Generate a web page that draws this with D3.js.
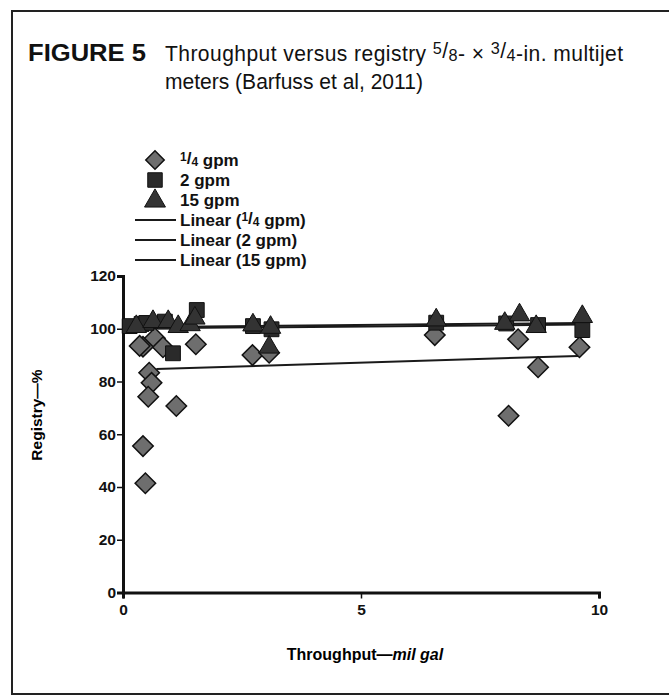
<!DOCTYPE html>
<html>
<head>
<meta charset="utf-8">
<script src="https://cdn.jsdelivr.net/npm/d3@7"></script>
<style>
  html, body { margin: 0; padding: 0; background: #fff; }
  svg { display: block; }
  .tick text { font-family: "Liberation Sans", Arial, sans-serif; font-weight: bold; font-size: 15.5px; fill: #111; }
  .legend text { font-family: "Liberation Sans", Arial, sans-serif; font-weight: bold; font-size: 17px; fill: #111; }
  .title { font-family: "Liberation Sans", Arial, sans-serif; fill: #111; }
</style>
</head>
<body>
<svg id="chart" width="669" height="696"></svg>
<script>
// 1/4 gpm (diamonds)
const quarterX = [0.42, 0.35, 0.67, 0.84, 1.12, 0.55, 0.6, 0.53, 0.42, 0.47, 1.53, 2.72, 3.07, 6.55, 8.3, 9.59, 8.72, 8.1];
const quarterY = [93.2, 93.5, 96.4, 93, 70.7, 83.3, 79.5, 74.2, 55.5, 41.4, 94.1, 90, 90.9, 97.6, 96, 93, 85.4, 67];
// 2 gpm (squares)
const twoX = [0.14, 0.39, 0.49, 0.88, 1.05, 1.55, 2.73, 3.12, 6.58, 8.05, 8.72, 9.65];
const twoY = [101, 101.8, 102.2, 102.7, 90.7, 107.1, 101, 99.8, 102.3, 102, 101.4, 99.5];
// 15 gpm (triangles)
const fifteenX = [0.28, 0.63, 0.95, 1.16, 1.41, 1.51, 2.73, 3.07, 3.1, 6.58, 8.02, 8.33, 8.68, 9.65];
const fifteenY = [100.8, 102.7, 102.7, 100.8, 101.5, 104, 101.4, 93, 100.5, 103.3, 102, 105.2, 100.8, 104.6];
// trend line end points [x, y]
const quarterTrend = [[0.7, 84.7], [9.56, 89.7]];
const twoTrend = [[0.08, 100.1], [9.65, 101.6]];
const fifteenTrend = [[0.08, 100.6], [9.65, 102.2]];

const xTicks = [0, 5, 10];
const yTicks = [0, 20, 40, 60, 80, 100, 120];
const legendLabels = ['1/4 gpm', '2 gpm', '15 gpm', 'Linear (1/4 gpm)', 'Linear (2 gpm)', 'Linear (15 gpm)'];

const svg = d3.select('#chart');

// writes text into a <text>, turning "a/b" into a small raised / lowered fraction
function fracText(sel, str, big, small, up) {
  const parts = str.split(/(\d\/\d)/);
  parts.forEach(p => {
    if (/^\d\/\d$/.test(p)) {
      sel.append('tspan').attr('font-size', small).attr('dy', -up).text(p[0]);
      sel.append('tspan').attr('font-size', big).attr('dy', up * 0.55).text('/');
      sel.append('tspan').attr('font-size', small).attr('dy', up * 0.45).text(p[2]);
    } else if (p) {
      sel.append('tspan').attr('font-size', big).text(p);
    }
  });
}

// frame
svg.append('rect')
  .attr('x', 12).attr('y', 11)
  .attr('width', 700).attr('height', 683)
  .attr('fill', 'none').attr('stroke', '#222').attr('stroke-width', 2);

// title
svg.append('text').attr('class', 'title')
  .attr('x', 28).attr('y', 61).attr('font-size', 23).attr('font-weight', 'bold')
  .attr('textLength', 118).attr('lengthAdjust', 'spacingAndGlyphs')
  .text('FIGURE 5');
const titleG = svg.append('g');
const t1 = titleG.append('text').attr('class', 'title').attr('x', 0).attr('y', 61);
fracText(t1, 'Throughput versus registry 5/8- \u00D7 3/4-in. multijet', 22, 17, 7);
const t2 = titleG.append('text').attr('class', 'title').attr('x', 0).attr('y', 89)
  .attr('font-size', 22).text('meters (Barfuss et al, 2011)');
// squeeze to the narrow face of the original
const sx = 258 / t2.node().getComputedTextLength();
titleG.attr('transform', `translate(165,0) scale(${sx},1)`);
t1.attr('textLength', 458 / sx).attr('lengthAdjust', 'spacing');

// scales
const x = d3.scaleLinear().domain([0, 10]).range([123, 599]);
const y = d3.scaleLinear().domain([0, 120]).range([592.5, 276]);

// axes
const xAxis = svg.append('g')
  .attr('transform', `translate(0,${y(0)})`)
  .call(d3.axisBottom(x).tickValues(xTicks).tickSize(6).tickPadding(3));
const yAxis = svg.append('g')
  .attr('transform', `translate(${x(0)},0)`)
  .call(d3.axisLeft(y).tickValues(yTicks).tickSize(6).tickPadding(1));
[xAxis, yAxis].forEach(g => {
  g.select('.domain').attr('stroke', '#111').attr('stroke-width', 3);
  g.selectAll('.tick line').attr('stroke', '#111').attr('stroke-width', 1.5);
});
xAxis.selectAll('.tick text').attr('dy', '0.85em');

// axis titles
svg.append('text')
  .attr('transform', 'translate(42,415) rotate(-90)')
  .attr('text-anchor', 'middle')
  .attr('font-family', '"Liberation Sans", Arial, sans-serif')
  .attr('font-weight', 'bold').attr('font-size', 15.5)
  .text('Registry\u2014%');
const xt = svg.append('text')
  .attr('x', 365).attr('y', 660)
  .attr('text-anchor', 'middle')
  .attr('font-family', '"Liberation Sans", Arial, sans-serif')
  .attr('font-weight', 'bold').attr('font-size', 16);
xt.append('tspan').text('Throughput\u2014');
xt.append('tspan').attr('font-style', 'italic').text('mil gal');

// trend lines
const line = d3.line().x(d => x(d[0])).y(d => y(d[1]));
[quarterTrend, twoTrend, fifteenTrend].forEach(tr => {
  svg.append('path').attr('d', line(tr))
    .attr('fill', 'none').attr('stroke', '#1a1a1a').attr('stroke-width', 2);
});

// markers
const diamond = d3.symbol().type(d3.symbolSquare).size(210);
const square = d3.symbol().type(d3.symbolSquare).size(220);
const triangle = d3.symbol().type(d3.symbolTriangle).size(180);

svg.append('g').selectAll('path')
  .data(d3.zip(quarterX, quarterY))
  .join('path')
  .attr('d', diamond)
  .attr('transform', d => `translate(${x(d[0])},${y(d[1])}) rotate(45)`)
  .attr('fill', '#6e6e6e').attr('stroke', '#111').attr('stroke-width', 1.5);

svg.append('g').selectAll('path')
  .data(d3.zip(twoX, twoY))
  .join('path')
  .attr('d', square)
  .attr('transform', d => `translate(${x(d[0])},${y(d[1])})`)
  .attr('fill', '#2a2a2a').attr('stroke', '#111').attr('stroke-width', 1);

svg.append('g').selectAll('path')
  .data(d3.zip(fifteenX, fifteenY))
  .join('path')
  .attr('d', triangle)
  .attr('transform', d => `translate(${x(d[0])},${y(d[1])})`)
  .attr('fill', '#333').attr('stroke', '#111').attr('stroke-width', 1);

// legend
const legend = svg.append('g').attr('class', 'legend');
const legendY = d3.scalePoint().domain(legendLabels).range([160, 260]);
legendLabels.forEach((lab, i) => {
  const cy = legendY(lab);
  if (i === 0) {
    legend.append('path').attr('d', d3.symbol().type(d3.symbolSquare).size(170))
      .attr('transform', `translate(155,${cy}) rotate(45)`)
      .attr('fill', '#6e6e6e').attr('stroke', '#111').attr('stroke-width', 1.5);
  } else if (i === 1) {
    legend.append('path').attr('d', d3.symbol().type(d3.symbolSquare).size(210))
      .attr('transform', `translate(155,${cy})`)
      .attr('fill', '#2a2a2a').attr('stroke', '#111');
  } else if (i === 2) {
    legend.append('path').attr('d', d3.symbol().type(d3.symbolTriangle).size(190))
      .attr('transform', `translate(155,${cy + 1})`)
      .attr('fill', '#333').attr('stroke', '#111');
  } else {
    legend.append('line').attr('x1', 135).attr('x2', 176).attr('y1', cy).attr('y2', cy)
      .attr('stroke', '#1a1a1a').attr('stroke-width', 2);
  }
  const tx = legend.append('text').attr('x', 180).attr('y', cy + 6);
  fracText(tx, lab, 17, 12, 5);
});
</script>
</body>
</html>
